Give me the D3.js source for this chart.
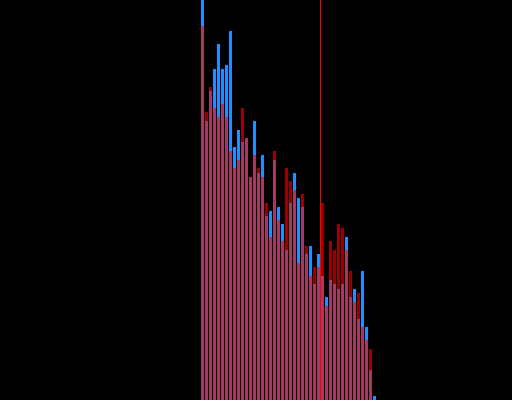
<!DOCTYPE html>
<html>
<head>
<meta charset="utf-8">
<script src="https://cdn.jsdelivr.net/npm/d3@7"></script>
<style>
  html, body { margin: 0; padding: 0; background: #000; }
  svg { display: block; }
</style>
</head>
<body>
<script>
// Bin indices (categories)
const bins = d3.range(44);
// Series A (blue) counts per bin
const seriesBlue = [210, 139.5, 154.5, 165.5, 178, 165.5, 167.5, 184.5, 126.5, 135,
  129, 131, 111.5, 139.5, 113.5, 122.5, 92, 94.5, 120, 96.5,
  88, 75, 98.5, 113.5, 101, 96.5, 73, 77, 58, 73,
  62, 51.5, 60, 58, 55.5, 58, 81.5, 51.5, 55.5, 40.5,
  64.5, 36.5, 15, 2];
// Series B (red) counts per bin
const seriesRed = [187, 144, 156.5, 146, 141.5, 148, 141.5, 124.5, 116, 120,
  146, 131, 111.5, 122.5, 116, 111.5, 98.5, 81.5, 124.5, 90,
  79.5, 116, 109.5, 105, 68.5, 103, 77, 62, 66.5, 66.5,
  98.5, 47, 79.5, 75, 88, 86, 75, 64.5, 49, 53.5,
  36.5, 30, 25.5, 0];
// Marker position (in bin units)
const markerValue = 29.875;
const yMax = 200;

const W = 512, H = 400;
const svg = d3.select("body").append("svg").attr("width", W).attr("height", H)
  .style("background", "#000");

const x = d3.scaleBand().domain(bins).range([201, 377])
  .paddingInner(0.25).paddingOuter(0.125).align(0);
const xLin = d3.scaleLinear().domain([0, bins.length]).range([201, 377]);
const y = d3.scaleLinear().domain([0, yMax]).range([H, 0]);

svg.append("g").selectAll("rect").data(bins).join("rect")
  .attr("x", d => x(d)).attr("width", x.bandwidth())
  .attr("y", d => y(seriesBlue[d])).attr("height", d => H - y(seriesBlue[d]))
  .attr("fill", "#1e90ff").attr("shape-rendering", "crispEdges");

svg.append("g").selectAll("rect").data(bins).join("rect")
  .attr("x", d => x(d)).attr("width", x.bandwidth())
  .attr("y", d => y(seriesRed[d])).attr("height", d => H - y(seriesRed[d]))
  .attr("fill", "#ff0000").attr("fill-opacity", 0.6).attr("shape-rendering", "crispEdges");

svg.append("line")
  .attr("x1", xLin(markerValue)).attr("x2", xLin(markerValue))
  .attr("y1", 0).attr("y2", H)
  .attr("stroke", "#ff0000").attr("stroke-width", 1);
</script>
</body>
</html>
